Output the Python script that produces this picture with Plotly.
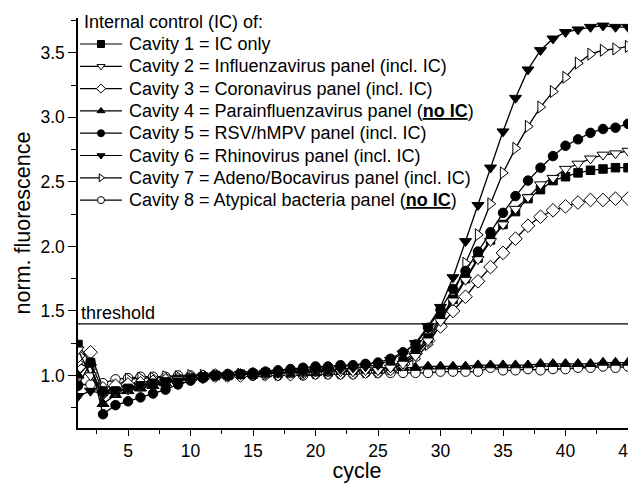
import plotly.graph_objects as go

cycles = list(range(1, 46))

cav1 = [1.24, 1.10, 0.88, 0.88, 0.90, 0.92, 0.94, 0.95, 0.97, 0.98,
        0.99, 1.00, 1.00, 1.01, 1.01, 1.02, 1.02, 1.02, 1.03, 1.03,
        1.03, 1.04, 1.04, 1.05, 1.05, 1.07, 1.11, 1.18, 1.29, 1.44,
        1.59, 1.75, 1.91, 2.05, 2.17, 2.27, 2.37, 2.44, 2.51, 2.54,
        2.57, 2.59, 2.60, 2.61, 2.61]
cav2 = [1.20, 1.00, 0.85, 0.87, 0.89, 0.91, 0.93, 0.95, 0.97, 0.98,
        0.99, 1.00, 1.00, 1.01, 1.01, 1.01, 1.02, 1.02, 1.02, 1.03,
        1.03, 1.03, 1.03, 1.04, 1.04, 1.06, 1.09, 1.15, 1.27, 1.42,
        1.58, 1.74, 1.90, 2.04, 2.17, 2.29, 2.38, 2.48, 2.53, 2.60,
        2.64, 2.68, 2.71, 2.72, 2.74]
cav3 = [1.15, 1.18, 0.90, 0.92, 0.93, 0.94, 0.95, 0.96, 0.97, 0.98,
        0.99, 1.00, 1.00, 1.00, 1.01, 1.01, 1.01, 1.01, 1.02, 1.02,
        1.02, 1.02, 1.02, 1.03, 1.03, 1.05, 1.09, 1.17, 1.27, 1.38,
        1.50, 1.61, 1.73, 1.84, 1.95, 2.06, 2.16, 2.23, 2.28, 2.31,
        2.34, 2.36, 2.36, 2.37, 2.37]
cav4 = [1.00, 1.10, 0.78, 0.85, 0.88, 0.90, 0.92, 0.94, 0.96, 0.98,
        0.99, 1.00, 1.00, 1.01, 1.01, 1.01, 1.02, 1.02, 1.02, 1.02,
        1.03, 1.03, 1.03, 1.04, 1.04, 1.05, 1.06, 1.06, 1.07, 1.07,
        1.07, 1.07, 1.08, 1.08, 1.08, 1.08, 1.08, 1.09, 1.09, 1.09,
        1.09, 1.09, 1.10, 1.10, 1.10]
cav5 = [0.92, 1.10, 0.70, 0.77, 0.80, 0.83, 0.86, 0.89, 0.93, 0.96,
        0.98, 1.00, 1.01, 1.01, 1.02, 1.03, 1.04, 1.05, 1.06, 1.07,
        1.07, 1.08, 1.08, 1.09, 1.10, 1.13, 1.18, 1.24, 1.37, 1.51,
        1.67, 1.81, 1.96, 2.11, 2.26, 2.39, 2.51, 2.61, 2.70, 2.78,
        2.83, 2.88, 2.91, 2.92, 2.95]
cav6 = [0.84, 0.88, 0.86, 0.88, 0.90, 0.92, 0.93, 0.95, 0.96, 0.98,
        0.99, 1.00, 1.00, 1.01, 1.01, 1.02, 1.02, 1.03, 1.03, 1.04,
        1.04, 1.05, 1.06, 1.07, 1.08, 1.12, 1.17, 1.25, 1.38, 1.53,
        1.76, 2.04, 2.32, 2.61, 2.89, 3.15, 3.37, 3.52, 3.61, 3.66,
        3.68, 3.70, 3.71, 3.70, 3.70]
cav7 = [1.10, 1.05, 0.85, 0.92, 0.97, 0.98, 0.98, 0.99, 0.99, 1.00,
        1.00, 1.00, 1.00, 1.01, 1.01, 1.01, 1.01, 1.02, 1.02, 1.02,
        1.02, 1.02, 1.03, 1.03, 1.03, 1.05, 1.08, 1.13, 1.24, 1.40,
        1.62, 1.87, 2.09, 2.33, 2.57, 2.76, 2.93, 3.08, 3.20, 3.31,
        3.42, 3.49, 3.52, 3.53, 3.55]
cav8 = [0.93, 0.93, 0.94, 0.97, 0.98, 0.99, 0.99, 0.99, 1.00, 1.00,
        1.00, 1.00, 1.00, 1.00, 1.00, 1.01, 1.00, 1.01, 1.00, 1.01,
        1.01, 1.01, 1.01, 1.02, 1.02, 1.02, 1.02, 1.02, 1.02, 1.03,
        1.03, 1.03, 1.03, 1.06, 1.04, 1.04, 1.05, 1.04, 1.05, 1.05,
        1.06, 1.06, 1.07, 1.06, 1.07]

threshold_value = 1.4
threshold_cycles = [1, 45]

legend_title = "Internal control (IC) of:"
names = [
    "Cavity 1 = IC only",
    "Cavity 2 = Influenzavirus panel (incl. IC)",
    "Cavity 3 = Coronavirus panel (incl. IC)",
    "Cavity 4 = Parainfluenzavirus panel (<b><u>no IC</u></b>)",
    "Cavity 5 = RSV/hMPV panel (incl. IC)",
    "Cavity 6 = Rhinovirus panel (incl. IC)",
    "Cavity 7 = Adeno/Bocavirus panel (incl. IC)",
    "Cavity 8 = Atypical bacteria panel (<b><u>no IC</u></b>)",
]
series = [cav1, cav2, cav3, cav4, cav5, cav6, cav7, cav8]
symbols = ["square", "triangle-down", "diamond", "triangle-up",
           "circle", "triangle-down", "triangle-right", "circle"]
fills = ["black", "white", "white", "black", "black", "black", "white", "white"]
sizes = [8.5, 10.5, 10.5, 10.5, 9.5, 10.5, 10.5, 9.5]

FONT = "Liberation Sans, Arial, sans-serif"

# figure geometry (page body adds an 8px offset)
W, H = 628, 475
ML, MR, MT, MB = 70, 0, 10, 55
PX0, PX1 = ML, W - MR
PY0, PY1 = MT, H - MB

# hand-made legend layout (pixel positions within the figure)
LEG_ROW0 = 13.7
LEG_STEP = 22.3
LEG_LINE = (72, 93, 114)
LEG_TEXT_X = 119
LEG_TITLE_X = 74

fig = go.Figure()

fig.add_trace(go.Scatter(
    x=threshold_cycles, y=[threshold_value] * len(threshold_cycles),
    mode="lines", line=dict(color="black", width=1.2),
    showlegend=False, hoverinfo="skip"))

order = [7, 6, 3, 2, 0, 1, 4, 5]
for i in order:
    fig.add_trace(go.Scatter(
        x=cycles, y=series[i], mode="lines+markers", name=names[i],
        line=dict(color="black", width=1.3),
        marker=dict(symbol=symbols[i], size=sizes[i], color=fills[i],
                    line=dict(color="black", width=1)),
        showlegend=False))

# legend samples on a hidden pixel-scaled overlay axis
for i in range(8):
    yc = LEG_ROW0 + LEG_STEP * (i + 1)
    fig.add_trace(go.Scatter(
        x=list(LEG_LINE), y=[yc] * 3, xaxis="x2", yaxis="y2",
        mode="lines+markers", name=names[i], showlegend=False,
        cliponaxis=False, hoverinfo="skip",
        line=dict(color="black", width=1.2),
        marker=dict(symbol=symbols[i], size=7, color=fills[i],
                    opacity=[0, 1, 0],
                    line=dict(color="black", width=1))))
    fig.add_annotation(x=LEG_TEXT_X, y=yc, xref="x2", yref="y2",
                       text=names[i], showarrow=False, xanchor="left",
                       yanchor="middle",
                       font=dict(family=FONT, size=18, color="black"))

fig.add_annotation(x=LEG_TITLE_X, y=LEG_ROW0, xref="x2", yref="y2",
                   text=legend_title, showarrow=False, xanchor="left",
                   yanchor="middle",
                   font=dict(family=FONT, size=18, color="black"))

fig.add_annotation(x=1, y=threshold_value, xref="x", yref="y",
                   text="threshold", showarrow=False, xanchor="left",
                   yanchor="bottom", xshift=1, yshift=-1,
                   font=dict(family=FONT, size=18, color="black"))

fig.update_layout(
    width=W, height=H,
    margin=dict(l=ML, r=MR, t=MT, b=MB, autoexpand=False),
    paper_bgcolor="white", plot_bgcolor="white",
    font=dict(family=FONT, size=17.5, color="black"),
    showlegend=False,
    xaxis=dict(range=[1, 1 + (PX1 - PX0) / 12.5], showline=True,
               linecolor="black", linewidth=1.5,
               ticks="outside", ticklen=6, tickwidth=1.2, tickcolor="black",
               tick0=0, dtick=5, showgrid=False, zeroline=False,
               ticklabeloverflow="allow",
               minor=dict(ticks="outside", ticklen=4, tickwidth=1.2,
                          tickcolor="black", dtick=2.5, tick0=0, showgrid=False),
               title=dict(text="cycle", font=dict(size=21.5), standoff=2),
               tickfont=dict(size=17.5)),
    yaxis=dict(range=[0.593, 3.77], showline=True, linecolor="black", linewidth=1.5,
               ticks="outside", ticklen=8, tickwidth=1.2, tickcolor="black",
               tick0=0, dtick=0.5, tickformat=".1f", showgrid=False, zeroline=False,
               minor=dict(ticks="outside", ticklen=5, tickwidth=1.2,
                          tickcolor="black", dtick=0.25, tick0=0, showgrid=False),
               title=dict(text="norm. fluorescence", font=dict(size=21.5), standoff=4),
               tickfont=dict(size=17.5)),
    xaxis2=dict(overlaying="x", range=[PX0, PX1], visible=False, fixedrange=True),
    yaxis2=dict(overlaying="y", range=[PY1, PY0], visible=False, fixedrange=True),
)

fig.write_html("out.html")
